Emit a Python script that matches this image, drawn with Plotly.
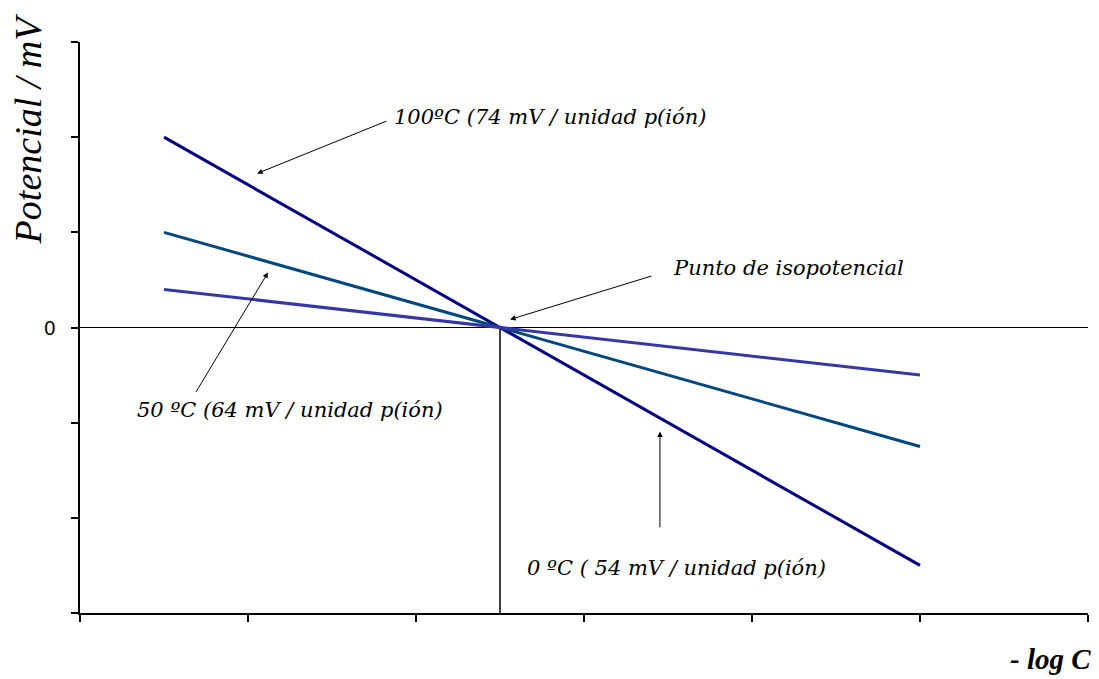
import plotly.graph_objects as go

# ---- data ----
x_log_c = [0.5, 2.5, 5.0]
pot_100C = [2.0, 0.0, -2.5]
pot_50C = [1.0, 0.0, -1.25]
pot_0C = [0.4, 0.0, -0.5]
series_names = ["100ºC", "50ºC", "0ºC"]
label_texts = [
    "100ºC (74 mV / unidad p(ión)",
    "Punto de isopotencial",
    "50 ºC (64 mV / unidad p(ión)",
    "0 ºC ( 54 mV / unidad p(ión)",
]
y_tickvals = [-3, -2, -1, 0, 1, 2, 3]
y_ticktext = ["", "", "", "0", "", "", ""]
x_tickvals = [0, 1, 2, 3, 4, 5, 6]
iso_x = 2.5
iso_y = 0.0

colors = ["#000080", "#00467f", "#3636a6"]

fig = go.Figure()
for name, ys, c in zip(series_names, [pot_100C, pot_50C, pot_0C], colors):
    fig.add_trace(go.Scatter(x=x_log_c, y=ys, mode="lines", name=name,
                             line=dict(color=c, width=3), showlegend=False,
                             hoverinfo="skip"))

# reference lines (zero potential and isopotential x)
fig.add_shape(type="line", xref="x", yref="y", x0=0, x1=6, y0=iso_y, y1=iso_y,
              line=dict(color="black", width=1), layer="below")
fig.add_shape(type="line", xref="x", yref="y", x0=iso_x, x1=iso_x, y0=-3, y1=iso_y,
              line=dict(color="black", width=1.5), layer="below")

lab_font = dict(family="DejaVu Serif", size=21, color="black", style="italic")

# arrows: (tip x, tip y, tail x, tail y)
arrows = [
    (1.054, 1.618, 1.833, 2.175),
    (2.560, 0.084, 3.411, 0.546),
    (1.119, 0.578, 0.685, -0.693),
    (3.452, -1.093, 3.452, -2.115),
]
for tx, ty, sx, sy in arrows:
    fig.add_annotation(x=tx, y=ty, ax=sx, ay=sy, xref="x", yref="y",
                       axref="x", ayref="y", text="", showarrow=True,
                       arrowhead=2, arrowsize=1.1, arrowwidth=1,
                       arrowcolor="black", standoff=0, startstandoff=0)

label_pos = [(1.857, 2.207), (3.520, 0.630), (0.327, -0.872), (2.649, -2.522)]
for t, (lx, ly) in zip(label_texts, label_pos):
    fig.add_annotation(x=lx, y=ly, xref="x", yref="y", text=t, showarrow=False,
                       xanchor="left", yanchor="middle", font=lab_font)

# axis titles
fig.add_annotation(x=-0.052, y=0.848, xref="paper", yref="paper",
                   text="Potencial / mV", showarrow=False, textangle=-90,
                   xanchor="center", yanchor="middle",
                   font=dict(family="Liberation Serif, Times New Roman, serif",
                             size=38, color="black", style="italic"))
fig.add_annotation(x=1.005, y=-0.080, xref="paper", yref="paper",
                   text="- log C", showarrow=False,
                   xanchor="right", yanchor="middle",
                   font=dict(family="Liberation Serif, Times New Roman, serif",
                             size=29, color="black", style="italic", weight="bold"))

fig.update_layout(
    width=1099, height=679,
    margin=dict(l=80, r=11, t=42, b=66),
    paper_bgcolor="white", plot_bgcolor="white",
    xaxis=dict(range=[0, 6], tickvals=x_tickvals, ticktext=[""] * 7,
               showgrid=False, zeroline=False, showline=True,
               linecolor="black", linewidth=1.5, ticks="outside",
               ticklen=7, tickwidth=1.5, tickcolor="black", fixedrange=True),
    yaxis=dict(range=[-3, 3], tickvals=y_tickvals, ticktext=y_ticktext,
               showgrid=False, zeroline=False, showline=True,
               linecolor="black", linewidth=1.5, ticks="outside",
               ticklen=7, tickwidth=1.5, tickcolor="black",
               tickfont=dict(family="Liberation Sans", size=20, color="black"),
               ticklabelstandoff=12, fixedrange=True),
)

fig.write_html("out.html")
